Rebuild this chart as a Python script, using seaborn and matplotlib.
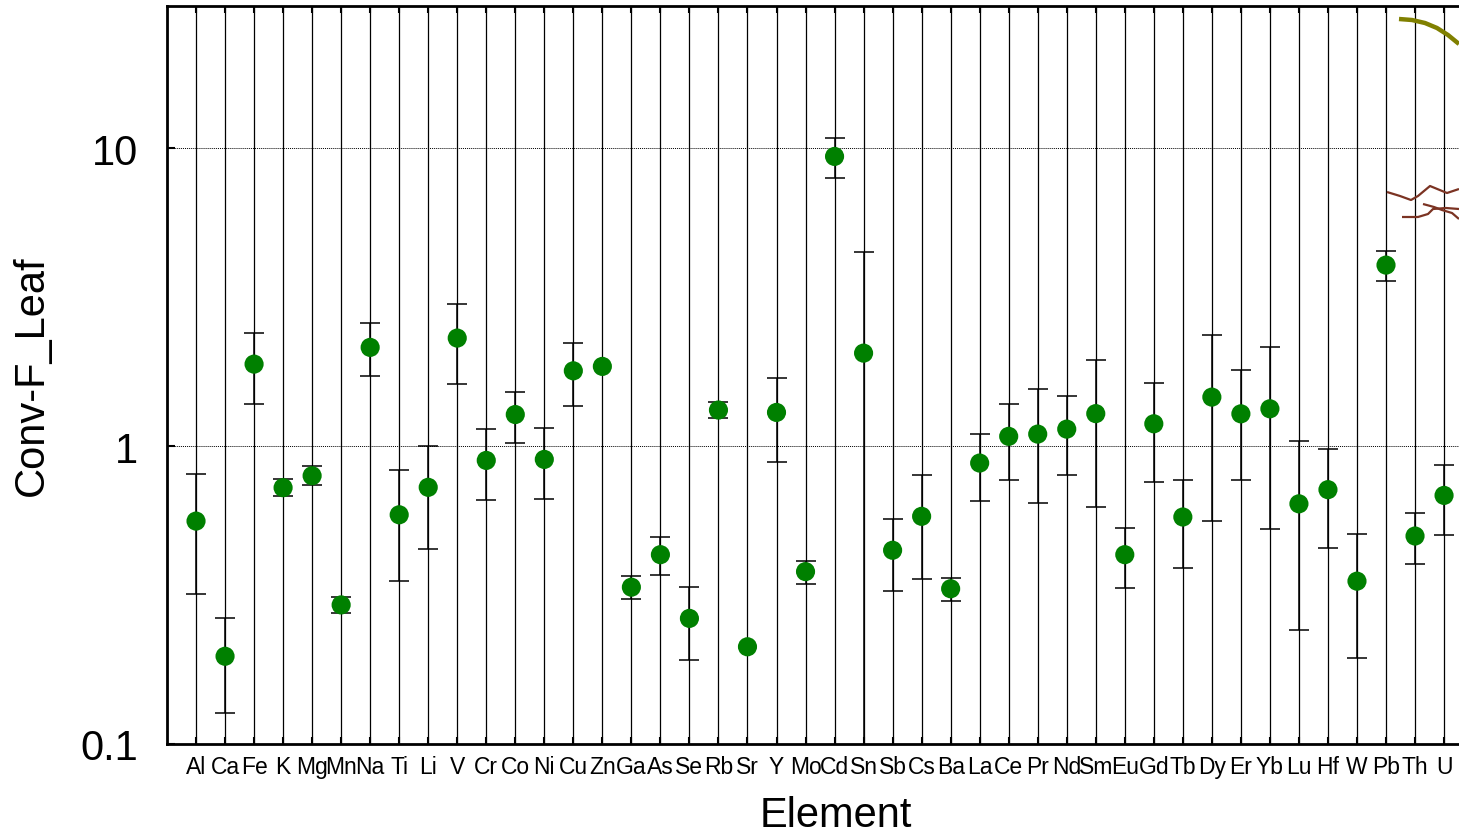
import numpy as np
import pandas as pd
import matplotlib
matplotlib.use("Agg")
import matplotlib.pyplot as plt
from matplotlib.lines import Line2D
import seaborn as sns

elements = ["Al", "Ca", "Fe", "K", "Mg", "Mn", "Na", "Ti", "Li", "V", "Cr", "Co", "Ni", "Cu", "Zn",
            "Ga", "As", "Se", "Rb", "Sr", "Y", "Mo", "Cd", "Sn", "Sb", "Cs", "Ba", "La", "Ce", "Pr",
            "Nd", "Sm", "Eu", "Gd", "Tb", "Dy", "Er", "Yb", "Lu", "Hf", "W", "Pb", "Th", "U"]
conv_f = [0.560, 0.197, 1.884, 0.725, 0.795, 0.293, 2.144, 0.588, 0.727, 2.304, 0.895, 1.276, 0.902, 1.789, 1.851,
          0.336, 0.432, 0.264, 1.321, 0.212, 1.297, 0.379, 9.38, 2.051, 0.447, 0.581, 0.332, 0.877, 1.078, 1.097,
          1.140, 1.285, 0.432, 1.188, 0.578, 1.460, 1.283, 1.334, 0.640, 0.714, 0.352, 4.05, 0.499, 0.683]
upper = [0.803, 0.265, 2.389, 0.775, 0.857, 0.311, 2.587, 0.829, 0.998, 3.003, 1.138, 1.521, 1.147, 2.222, np.nan,
         0.367, 0.496, 0.337, 1.401, np.nan, 1.695, 0.411, 10.83, 4.467, 0.569, 0.801, 0.361, 1.100, 1.389, 1.554,
         1.475, 1.944, 0.531, 1.623, 0.767, 2.363, 1.799, 2.144, 1.042, 0.975, 0.507, 4.50, 0.596, 0.865]
lower = [0.319, 0.127, 1.383, 0.678, 0.738, 0.276, 1.718, 0.352, 0.452, 1.611, 0.659, 1.023, 0.663, 1.359, np.nan,
         0.307, 0.368, 0.191, 1.239, np.nan, 0.886, 0.345, 7.93, 0.01, 0.327, 0.358, 0.303, 0.655, 0.767, 0.645,
         0.799, 0.624, 0.333, 0.759, 0.391, 0.559, 0.771, 0.527, 0.241, 0.455, 0.195, 3.59, 0.402, 0.502]

df = pd.DataFrame({"Element": elements, "Conv": conv_f, "Upper": upper, "Lower": lower})
df["pos"] = np.arange(len(df))

sns.set_theme(style="white")
plt.rcParams["font.family"] = ["Liberation Sans", "DejaVu Sans"]
plt.rcParams["text.color"] = "black"
plt.rcParams["axes.labelcolor"] = "black"
plt.rcParams["xtick.color"] = "black"
plt.rcParams["ytick.color"] = "black"

fig = plt.figure(figsize=(14.59, 8.37), dpi=100)
ax = fig.add_axes([167 / 1459, 1 - 745 / 837, 1 - 167 / 1459 + 0.02, (745 - 7) / 837])

# grid lines
for p in df["pos"]:
    ax.axvline(p, color="black", lw=0.9, zorder=0)
for yv in [1, 10]:
    ax.axhline(yv, color="black", lw=0.7, ls=(0, (1, 1)), zorder=0)

# error bars
err = df.dropna(subset=["Upper"])
ax.errorbar(err["pos"], err["Conv"],
            yerr=[err["Conv"] - err["Lower"], err["Upper"] - err["Conv"]],
            fmt="none", ecolor="black", elinewidth=1.1, capsize=7, capthick=1.1, zorder=2)

sns.scatterplot(data=df, x="pos", y="Conv", ax=ax, color="#008000", s=190,
                edgecolor="none", zorder=3, legend=False)

ax.set_yscale("log")
ax.set_ylim(0.1, 30)
ax.set_xlim(-1, -1 + (1459 + 29 - 167) / 29.02)
ax.set_xticks(df["pos"])
ax.set_xticklabels(df["Element"], fontsize=16.5)
ax.set_yticks([0.1, 1, 10])
ax.set_yticklabels(["0.1", "1", "10"], fontsize=30)
ax.yaxis.set_minor_locator(matplotlib.ticker.NullLocator())
ax.tick_params(axis="x", direction="in", length=5, width=1.5, top=True, bottom=True, pad=8, colors="black")
ax.tick_params(axis="y", direction="in", length=6, width=1.5, left=True, right=False, pad=21, colors="black")
ax.set_xlabel("Element", fontsize=30)
ax.xaxis.set_label_coords(0.5064, -0.069, transform=ax.transAxes)
ax.xaxis.label.set_va("top")
ax.set_ylabel("Conv-F_Leaf", fontsize=30, labelpad=20)
for side in ["left", "bottom", "top"]:
    ax.spines[side].set_visible(True)
    ax.spines[side].set_color("black")
    ax.spines[side].set_linewidth(2)
ax.spines["right"].set_visible(False)

# decorative clipped strokes at top right
W, H = 1459, 837
def deco(xs, ys, color, lw):
    fig.add_artist(Line2D([x / W for x in xs], [1 - y / H for y in ys], color=color, lw=lw,
                          transform=fig.transFigure, solid_capstyle="butt"))
deco([1399, 1412, 1425, 1437, 1448, 1459], [20, 21, 24, 29, 36, 45], "#808000", 3.2)
deco([1387, 1400, 1411, 1418, 1430, 1447, 1459], [193, 197, 201, 197, 187, 194, 190], "#7b3323", 1.6)
deco([1402, 1418, 1428, 1433, 1446, 1459], [218, 218, 215, 210, 209, 210], "#7b3323", 1.6)
deco([1423, 1434, 1442, 1452, 1459], [205, 208, 211, 214, 220], "#7b3323", 1.6)

fig.savefig("out.png", dpi=100)
